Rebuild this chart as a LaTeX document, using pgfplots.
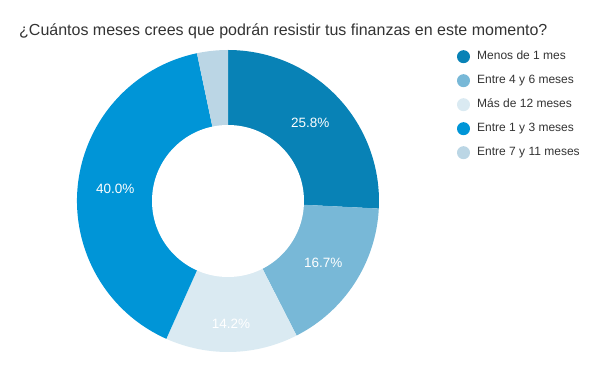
\documentclass[border=0pt]{standalone}
\usepackage{pgfplots}
\pgfplotsset{compat=1.18}
\usepackage{pgfplotstable}
\usetikzlibrary{calc}
\usepackage{fontspec}
\setmainfont{Liberation Sans}
\definecolor{c0}{HTML}{0882B6}
\definecolor{c1}{HTML}{78B8D7}
\definecolor{c2}{HTML}{DAEAF2}
\definecolor{c3}{HTML}{0095D7}
\definecolor{c4}{HTML}{BBD6E5}
\definecolor{txt}{HTML}{333333}
\newcommand\legfont{\fontsize{12}{14}\selectfont}
\newcommand\lblfont{\fontsize{13.5}{16}\selectfont}
\newcommand\titfont{\fontsize{16}{19}\selectfont}
\pgfplotstableread[col sep=comma]{
label,value,lr
Menos de 1 mes,25.8,113.5
Entre 4 y 6 meses,16.7,113.5
Más de 12 meses,14.2,123
Entre 1 y 3 meses,40.0,113.5
Entre 7 y 11 meses,3.3,113.5
}\piedata
\begin{document}
\begin{tikzpicture}
\begin{axis}[scale only axis, width=600pt, height=371pt,
  xmin=0, xmax=600, ymin=0, ymax=371, hide axis, clip=false]
\path (axis cs:0,0) rectangle (axis cs:600,371);
\def\cx{228}\def\cy{170}
\def\cum{0}
\pgfplotsforeachungrouped \i in {0,...,4}{%
  \pgfplotstablegetelem{\i}{value}\of\piedata
  \let\v\pgfplotsretval
  \pgfmathsetmacro\a{90-3.6*\cum}%
  \pgfmathsetmacro\b{90-3.6*(\cum+\v)}%
  \pgfmathsetmacro\newcum{\cum+\v}%
  \global\let\cum\newcum
  \edef\temp{\noexpand\fill[c\i] (axis cs:\cx,\cy) -- ++(\a:151pt) arc[start angle=\a, end angle=\b, radius=151pt] -- cycle;}%
  \temp
}
\fill[white] (axis cs:\cx,\cy) circle[radius=76pt];
\def\cum{0}
\pgfplotsforeachungrouped \i in {0,...,4}{%
  \pgfplotstablegetelem{\i}{value}\of\piedata
  \let\v\pgfplotsretval
  \pgfplotstablegetelem{\i}{lr}\of\piedata
  \let\lr\pgfplotsretval
  \pgfmathsetmacro\m{90-3.6*(\cum+\v/2)}%
  \pgfmathsetmacro\newcum{\cum+\v}%
  \global\let\cum\newcum
  \pgfmathparse{\v>5?1:0}%
  \ifnum\pgfmathresult=1
    \edef\temp{\noexpand\node[text=white, font=\noexpand\lblfont, inner sep=0pt] at ($(axis cs:\cx,\cy)+(\m:\lr pt)$) {\v\noexpand\%};}%
    \temp
  \fi
  \pgfplotstablegetelem{\i}{label}\of\piedata
  \let\lab\pgfplotsretval
  \pgfmathsetmacro\ly{371-(56.7+24*\i)}%
  \edef\temp{\noexpand\fill[c\i] (axis cs:463.5,\ly) circle[radius=6.5pt];
    \noexpand\node[anchor=mid west, text=txt, font=\noexpand\legfont, inner sep=0pt] at (axis cs:477,\ly) {\lab};}%
  \temp
}
\node[anchor=base west, text=txt, font=\titfont, inner sep=0pt] at (axis cs:19,335.5) {¿Cuántos meses crees que podrán resistir tus finanzas en este momento?};
\end{axis}
\end{tikzpicture}
\end{document}
